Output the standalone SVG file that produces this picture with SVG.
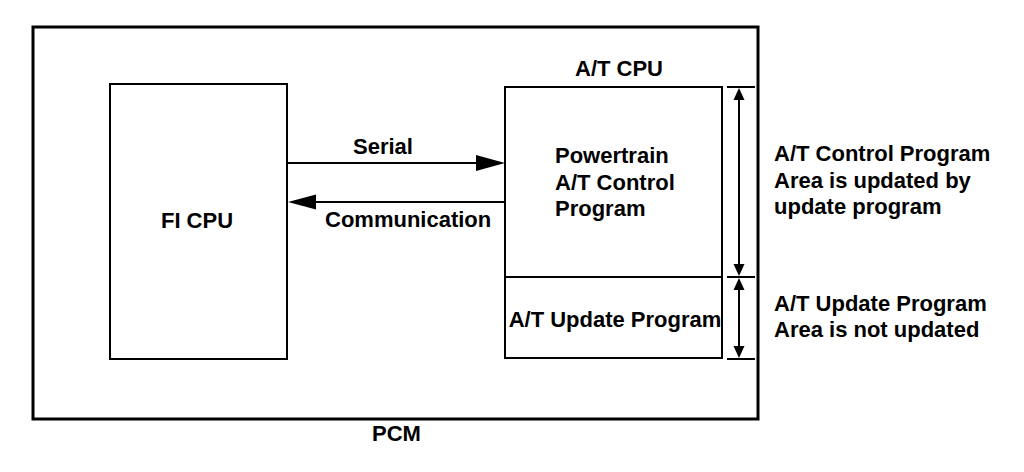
<svg xmlns="http://www.w3.org/2000/svg" width="1024" height="472" viewBox="0 0 1024 472">
<style>
text{font-family:"Liberation Sans",Arial,sans-serif;font-weight:bold;font-size:22px;fill:#000}
.box{fill:none;stroke:#000;stroke-width:2}
.ln{stroke:#000;stroke-width:2;fill:none}
.ah{fill:#000}
</style>
<rect width="1024" height="472" fill="#fff"/>
<g id="pcm">
<rect x="33" y="27" width="725" height="392" fill="none" stroke="#000" stroke-width="3"/>
<text x="372" y="441">PCM</text>
</g>
<g id="fi-cpu">
<rect class="box" x="110" y="84" width="177" height="275"/>
<text x="197" y="228" text-anchor="middle">FI CPU</text>
</g>
<g id="at-cpu">
<text x="619" y="76" text-anchor="middle">A/T CPU</text>
<rect class="box" x="505" y="87" width="217" height="271"/>
<line class="ln" x1="505" y1="277" x2="722" y2="277"/>
<text x="555" y="163">Powertrain</text>
<text x="555" y="190">A/T Control</text>
<text x="555" y="216">Program</text>
<text x="615" y="327" text-anchor="middle">A/T Update Program</text>
</g>
<g id="notes">
<text x="774" y="161">A/T Control Program</text>
<text x="774" y="188">Area is updated by</text>
<text x="774" y="214">update program</text>
<text x="774" y="311">A/T Update Program</text>
<text x="774" y="337">Area is not updated</text>
</g>
<g id="connectors">
<line class="ln" x1="288" y1="163" x2="478" y2="163"/>
<polygon class="ah" points="505,163 476,155 476,171"/>
<text x="353" y="154">Serial</text>
<line class="ln" x1="314" y1="202" x2="505" y2="202"/>
<polygon class="ah" points="288,202 316,194.5 316,209.5"/>
<text x="325" y="227">Communication</text>
<line class="ln" x1="727" y1="87" x2="755" y2="87"/>
<line class="ln" x1="727" y1="277" x2="755" y2="277"/>
<line class="ln" x1="727" y1="359" x2="755" y2="359"/>
<line class="ln" x1="739" y1="96" x2="739" y2="268"/>
<polygon class="ah" points="739,88 733.5,100 744.5,100"/>
<polygon class="ah" points="739,276 733.5,264 744.5,264"/>
<line class="ln" x1="739" y1="286" x2="739" y2="350"/>
<polygon class="ah" points="739,278 733.5,290 744.5,290"/>
<polygon class="ah" points="739,358 733.5,346 744.5,346"/>
</g>
</svg>
